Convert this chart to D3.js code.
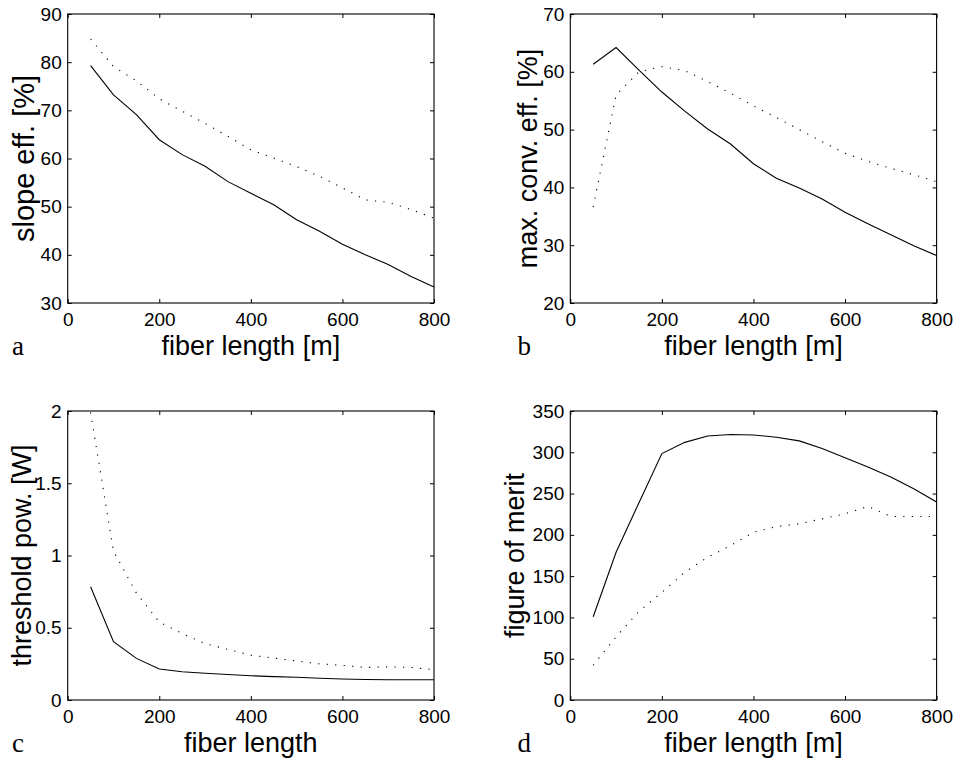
<!DOCTYPE html>
<html>
<head>
<meta charset="utf-8">
<script src="https://cdn.jsdelivr.net/npm/d3@7"></script>
<style>
	body { margin: 0; background: #fff; }
	svg { display: block; }
	.tick text { font-family: "Liberation Sans", Arial, Helvetica, sans-serif; font-size: 19px; fill: #000; }
	.axis_label { font-family: "Liberation Sans", Arial, Helvetica, sans-serif; font-size: 27px; fill: #000; }
	.panel_letter { font-family: "Liberation Serif", "Times New Roman", serif; font-size: 27px; fill: #000; }
</style>
</head>
<body>
<div id="plot"></div>
<script>

///////////////////////////////////////////////////////////////////////
// data (fiber length in m)

let fiber_length = [ 50, 100, 150, 200, 250, 300, 350, 400, 450, 500, 550, 600, 650, 700, 750, 800 ];

let slope_solid  = [ 79.3, 73.2, 69.1, 63.9, 60.8, 58.4, 55.2, 52.8, 50.4, 47.3, 44.9, 42.2, 40.0, 38.0, 35.5, 33.3 ];
let slope_dotted = [ 84.8, 79.1, 76.1, 72.4, 69.8, 67.3, 64.6, 61.8, 60.1, 58.3, 56.3, 53.9, 51.4, 50.9, 49.4, 47.6 ];

let conv_solid  = [ 61.3, 64.2, 60.3, 56.5, 53.2, 50.1, 47.5, 44.1, 41.6, 39.9, 38.0, 35.7, 33.7, 31.8, 29.9, 28.2 ];
let conv_dotted = [ 36.6, 56.0, 60.0, 60.9, 60.2, 58.3, 56.3, 54.1, 52.1, 50.0, 47.9, 45.9, 44.5, 43.3, 42.2, 41.0 ];

let thresh_solid  = [ 0.784, 0.404, 0.288, 0.215, 0.196, 0.185, 0.176, 0.168, 0.162, 0.157, 0.151, 0.145, 0.142, 0.140, 0.140, 0.140 ];
let thresh_dotted = [ 1.99, 1.03, 0.74, 0.54, 0.46, 0.39, 0.35, 0.31, 0.29, 0.27, 0.25, 0.24, 0.225, 0.23, 0.225, 0.21 ];

let merit_solid  = [ 100.8, 179, 239, 298.4, 312, 319.8, 321.5, 321, 318.2, 313.8, 304.5, 293.5, 282.2, 270, 255.9, 239.7 ];
let merit_dotted = [ 42.1, 76.5, 107.3, 130.4, 154.7, 172.9, 187, 203.2, 210, 213.4, 219.4, 225.5, 234.4, 222.3, 222.3, 222.3 ];

let x_ticks = [ 0, 200, 400, 600, 800 ];

let slope_ticks  = [ 30, 40, 50, 60, 70, 80, 90 ];
let conv_ticks   = [ 20, 30, 40, 50, 60, 70 ];
let thresh_ticks = [ 0, 0.5, 1, 1.5, 2 ];
let merit_ticks  = [ 0, 50, 100, 150, 200, 250, 300, 350 ];

///////////////////////////////////////////////////////////////////////

const W = 954, H = 763;
const col_x = [ 67.7, 570.3 ];
const row_y = [ 14, 411 ];
const pw = 366.3, ph = 289;

let panels = [
	{ letter: "a", col: 0, row: 0, y_ticks: slope_ticks,  solid: slope_solid,  dotted: slope_dotted,  y_label: "slope eff. [%]",      x_label: "fiber length [m]", label_off: 34, label_size: 29 },
	{ letter: "b", col: 1, row: 0, y_ticks: conv_ticks,   solid: conv_solid,   dotted: conv_dotted,   y_label: "max. conv. eff. [%]", x_label: "fiber length [m]", label_off: 33, label_size: 27 },
	{ letter: "c", col: 0, row: 1, y_ticks: thresh_ticks, solid: thresh_solid, dotted: thresh_dotted, y_label: "threshold pow. [W]",  x_label: "fiber length",     label_off: 37, label_size: 27 },
	{ letter: "d", col: 1, row: 1, y_ticks: merit_ticks,  solid: merit_solid,  dotted: merit_dotted,  y_label: "figure of merit",     x_label: "fiber length [m]", label_off: 46, label_size: 27 }
];

let svg = d3.select( "#plot" )
	.append( "svg" )
		.attr( "width", W )
		.attr( "height", H );

function draw_panel( p )	{

	let x0 = col_x[ p.col ], y0 = row_y[ p.row ];

	let x = d3.scaleLinear()
		.domain( [ 0, 800 ] )
		.range( [ 0, pw ] );

	let y = d3.scaleLinear()
		.domain( d3.extent( p.y_ticks ) )
		.range( [ ph, 0 ] );

	let g = svg.append( "g" )
		.attr( "transform", "translate(" + x0 + "," + y0 + ")" );

	// inward ticks on all four sides, labels only bottom / left

	g.append( "g" )
		.attr( "transform", "translate(0," + ph + ")" )
		.call( d3.axisBottom( x ).tickValues( x_ticks ).tickSize( -4 ).tickPadding( 10 ).tickFormat( d3.format( "d" ) ) );
	g.append( "g" )
		.call( d3.axisTop( x ).tickValues( x_ticks ).tickSize( -4 ).tickFormat( "" ) );
	g.append( "g" )
		.call( d3.axisLeft( y ).tickValues( p.y_ticks ).tickSize( -4 ).tickPadding( 6 ).tickFormat( d => String( d ) ) );
	g.append( "g" )
		.attr( "transform", "translate(" + pw + ",0)" )
		.call( d3.axisRight( y ).tickValues( p.y_ticks ).tickSize( -4 ).tickFormat( "" ) );

	g.selectAll( ".domain" ).remove();
	g.selectAll( ".tick line" ).attr( "stroke", "#000" ).attr( "stroke-width", 1 );

	g.append( "rect" )
		.attr( "width", pw )
		.attr( "height", ph )
		.attr( "fill", "none" )
		.attr( "stroke", "#000" )
		.attr( "stroke-width", 1.1 );

	let line = d3.line()
		.x( ( d, i ) => x( fiber_length[ i ] ) )
		.y( d => y( d ) );

	g.append( "path" )
		.attr( "d", line( p.dotted ) )
		.attr( "fill", "none" )
		.attr( "stroke", "#000" )
		.attr( "stroke-width", 1.1 )
		.attr( "stroke-dasharray", "1.2 7.3" );

	g.append( "path" )
		.attr( "d", line( p.solid ) )
		.attr( "fill", "none" )
		.attr( "stroke", "#000" )
		.attr( "stroke-width", 1.1 );

	g.append( "text" )
		.attr( "class", "axis_label" )
		.attr( "x", pw / 2 )
		.attr( "y", ph + 52 )
		.attr( "text-anchor", "middle" )
		.text( p.x_label );

	g.append( "text" )
		.attr( "class", "axis_label" )
		.attr( "transform", "translate(" + ( -p.label_off ) + "," + ( ph / 2 ) + ") rotate(-90)" )
		.attr( "text-anchor", "middle" )
		.style( "font-size", p.label_size + "px" )
		.text( p.y_label );

	g.append( "text" )
		.attr( "class", "panel_letter" )
		.attr( "x", p.col == 0 ? 12 - x0 : 517.5 - x0 )
		.attr( "y", ph + 52 )
		.text( p.letter );
}

panels.forEach( draw_panel );

</script>
</body>
</html>
